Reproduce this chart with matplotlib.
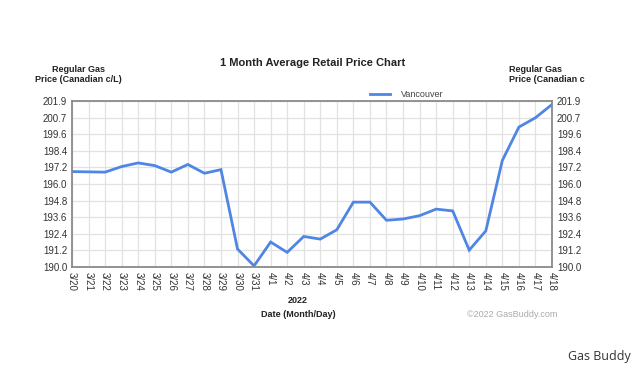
import numpy as np
import matplotlib
matplotlib.use("Agg")
import matplotlib.pyplot as plt

plt.rcParams['font.family'] = ['Liberation Sans', 'DejaVu Sans']

# data
dates = ["3/20", "3/21", "3/22", "3/23", "3/24", "3/25", "3/26", "3/27", "3/28", "3/29",
         "3/30", "3/31", "4/1", "4/2", "4/3", "4/4", "4/5", "4/6", "4/7", "4/8",
         "4/9", "4/10", "4/11", "4/12", "4/13", "4/14", "4/15", "4/16", "4/17", "4/18"]
vancouver = [196.84, 196.82, 196.80, 197.20, 197.46, 197.27, 196.80, 197.35, 196.72, 196.98,
             191.29, 190.08, 191.79, 191.05, 192.19, 192.00, 192.67, 194.65, 194.65, 193.35,
             193.44, 193.68, 194.15, 194.02, 191.21, 192.59, 197.64, 200.03, 200.70, 201.65]
ytick_labels = ["190.0", "191.2", "192.4", "193.6", "194.8", "196.0",
                "197.2", "198.4", "199.6", "200.7", "201.9"]
ymin, ymax = 190.0, 201.9

fig = plt.figure(figsize=(6.4, 3.71), dpi=100)
ax = fig.add_axes([0.1125, 0.2803, 0.75, 0.4475])

x = np.arange(len(dates))
ax.plot(x, vancouver, color="#4f86e4", lw=2, label="Vancouver", solid_joinstyle="miter")

yt = np.linspace(ymin, ymax, len(ytick_labels))
ax.set_xlim(0, len(dates) - 1)
ax.set_ylim(ymin, ymax)
ax.set_xticks(x)
ax.set_xticklabels(dates, rotation=-90, fontsize=7, color="#333333")
ax.set_yticks(yt)
ax.set_yticklabels(ytick_labels, fontsize=7, color="#333333")
ax.tick_params(axis="both", length=0, pad=3.5)
ax.tick_params(axis="y", labelright=True)
ax.grid(True, color="#e2e2e2", lw=0.9)
for s in ax.spines.values():
    s.set_color("#8a8a8a")
    s.set_linewidth(1.3)

fig.text(0.489, 0.829, "1 Month Average Retail Price Chart", ha="center", va="center",
         fontsize=8, fontweight="bold", color="#222222")
fig.text(0.122, 0.8, "Regular Gas\nPrice (Canadian c/L)", ha="center", va="center",
         fontsize=6.5, fontweight="bold", color="#222222", linespacing=1.1)
fig.text(0.795, 0.8, "Regular Gas\nPrice (Canadian c", ha="left", va="center",
         fontsize=6.5, fontweight="bold", color="#222222", linespacing=1.1)

fig.legend(loc="center", bbox_to_anchor=(0.635, 0.746), frameon=False, fontsize=6.5,
           handlelength=2.2, handletextpad=1.2, labelcolor="#444444")

fig.text(0.466, 0.19, "2022", ha="center", va="center", fontsize=6.5,
         fontweight="bold", color="#222222")
fig.text(0.466, 0.152, "Date (Month/Day)", ha="center", va="center", fontsize=6.5,
         fontweight="bold", color="#222222")
fig.text(0.8, 0.152, "\u00a92022 GasBuddy.com", ha="center", va="center", fontsize=6.5,
         color="#aaaaaa")
fig.text(0.985, 0.038, "Gas Buddy", ha="right", va="center", fontsize=9,
         color="#333333", family=["Open Sans", "DejaVu Sans"])

fig.savefig("out.png", dpi=100)
